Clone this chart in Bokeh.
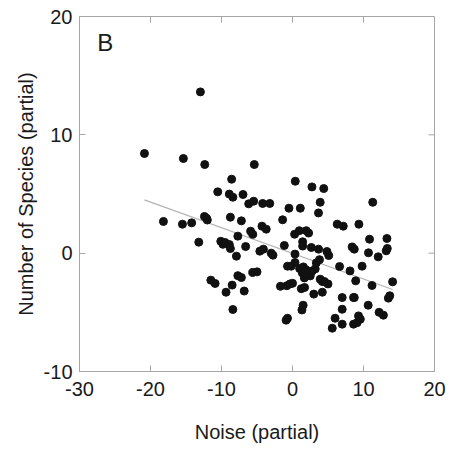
import math
from bokeh.plotting import figure
from bokeh.models import Label, FixedTicker
from bokeh.embed import file_html
from bokeh.resources import INLINE

noise_x = [
    -20.85, -12.97, -15.37, -12.36, -5.38, -18.18, -15.5, -14.2, -13.2, -12.4,
    -12.1, -12.0, -10.53, -8.57, -8.9, -8.4, -6.97, -6.17, -5.47, -4.2,
    -3.2, -8.75, -7.2, -10.1, -9.8, -9.5, -8.9, -8.75, -7.7, -7.9,
    -6.6, -5.9, -5.6, -4.3, -3.7, -4.6, -4.1, -3.0, -2.75, -11.5,
    -10.9, -9.36, -8.5, -8.4, -7.7, -7.2, -6.8, -5.6, -5.0, -1.39,
    -0.5, 0.39, 1.1, 2.74, 4.4, 3.9, 3.66, -1.15, 0.3, 0.96,
    1.94, 2.27, 1.43, 1.43, 2.65, 3.67, 4.85, 5.1, 0.35, 0.35,
    -0.7, -0.2, 1.0, 1.53, 2.24, 1.39, 2.5, 1.67, 3.2, 1.9,
    2.1, 2.8, 3.36, 3.8, -1.7, -0.8, -0.35, 0.0, -0.9, -0.7,
    1.24, 1.7, 1.33, 1.5, 3.0, 3.9, 4.2, 4.5, 5.0, 4.2,
    6.3, 7.15, 9.35, 6.63, 8.1, 8.4, 8.7, 9.8, 8.9, 10.7,
    10.85, 11.3, 12.07, 13.3, 13.2, 13.35, 14.1, 11.2, 10.66, 12.2,
    12.8, 13.5, 13.7, 7.0, 7.0, 6.0, 5.6, 7.0, 8.6, 8.6,
    9.1, 9.55, 9.3, 8.7,
]
species_y = [
    8.42, 13.63, 8.0, 7.49, 7.49, 2.68, 2.45, 2.56, 0.93, 3.1,
    2.95, 2.8, 5.18, 6.25, 4.99, 4.73, 4.96, 4.17, 4.39, 4.2,
    4.2, 3.04, 2.73, 1.0, 0.75, 0.9, 0.73, 0.39, 1.44, -0.25,
    0.56, 1.86, 1.6, 2.28, 2.03, 0.17, 0.34, 0.0, -0.17, -2.28,
    -2.56, -3.3, -2.7, -4.76, -1.9, -2.06, -3.2, -1.63, -1.58, 2.82,
    3.8, 6.08, 3.8, 5.6, 5.46, 4.3, 3.4, 0.65, 1.6, 1.9,
    1.9, 1.7, 0.96, 0.6, 0.48, 0.34, 0.14, -0.2, -0.08, -0.79,
    -1.1, -1.1, -1.3, -1.16, -1.58, -1.67, -1.92, -2.09, -1.33, -1.4,
    -1.8, -1.5, -0.82, -0.55, -2.8, -2.75, -2.6, -2.55, -5.66, -5.5,
    -3.0, -2.9, -4.8, -4.4, -3.46, -2.2, -2.4, -2.4, -2.6, -3.3,
    2.45, 2.28, 2.45, -1.13, -1.5, 0.53, 0.34, -1.1, -2.34, 0.03,
    1.18, 4.3, -0.31, 1.24, 0.2, 0.4, -2.42, -2.73, -4.4, -5.0,
    -5.24, -3.8, -3.6, -3.75, -4.74, -5.5, -6.34, -6.0, -3.75, -6.0,
    -5.87, -5.58, -5.3, -3.75,
]

fit_x = [-20.85, 14.1]
fit_y = [4.5, -3.07]

x_lim = (-30, 20)
y_lim = (-10, 20)
x_ticks = [-30, -20, -10, 0, 10, 20]
y_ticks = [-10, 0, 10, 20]
x_tick_labels = ["-30", "-20", "-10", "0", "10", "20"]
y_tick_labels = ["-10", "0", "10", "20"]

FONT = "Liberation Sans"
GRAY = "#a6a6a6"
TXT = "#1a1a1a"

p = figure(width=453, height=450, x_range=x_lim, y_range=y_lim,
           output_backend="svg", toolbar_location=None,
           min_border_left=79, min_border_right=19,
           min_border_top=16, min_border_bottom=79)
p.background_fill_color = "white"
p.border_fill_color = "white"
p.outline_line_color = GRAY
p.outline_line_width = 1
p.xgrid.visible = False
p.ygrid.visible = False

def style(ax, ticks, tick_labels):
    ax.ticker = FixedTicker(ticks=ticks)
    ax.axis_line_color = GRAY
    ax.major_tick_line_color = GRAY
    ax.major_tick_in = 6
    ax.major_tick_out = 0
    ax.minor_tick_line_color = None
    ax.major_label_text_font = FONT
    ax.major_label_text_color = TXT
    ax.major_label_text_font_size = "20px"
    ax.axis_label_text_font = FONT
    ax.axis_label_text_color = TXT
    ax.axis_label_text_font_style = "normal"
    ax.axis_label_text_font_size = "20px"
    ax.major_label_overrides = {t: s for t, s in zip(ticks, tick_labels)}

style(p.xaxis[0], x_ticks, x_tick_labels)
style(p.yaxis[0], y_ticks, y_tick_labels)
p.xaxis[0].axis_label = "Noise (partial)"
p.yaxis[0].axis_label = "Number of Species (partial)"
p.xaxis[0].major_label_standoff = 10
p.yaxis[0].major_label_standoff = 7
p.xaxis[0].axis_label_standoff = 22
p.yaxis[0].axis_label_standoff = 4

# inward ticks on the top and right edges of the frame
p.ray(x=x_ticks, y=[y_lim[1]] * len(x_ticks), length=6, length_units="screen",
      angle=-math.pi / 2, line_color=GRAY, line_width=1)
p.ray(x=[x_lim[1]] * len(y_ticks), y=y_ticks, length=6, length_units="screen",
      angle=math.pi, line_color=GRAY, line_width=1)

p.line(fit_x, fit_y, line_color="#b4b4b4", line_width=1.2)
p.scatter(noise_x, species_y, size=8, fill_color="#111111", line_color="#111111")

p.add_layout(Label(x=-27.5, y=16.7, text="B", text_font=FONT,
                   text_font_size="24px", text_color=TXT))

open("out.html", "w").write(file_html(p, INLINE))
